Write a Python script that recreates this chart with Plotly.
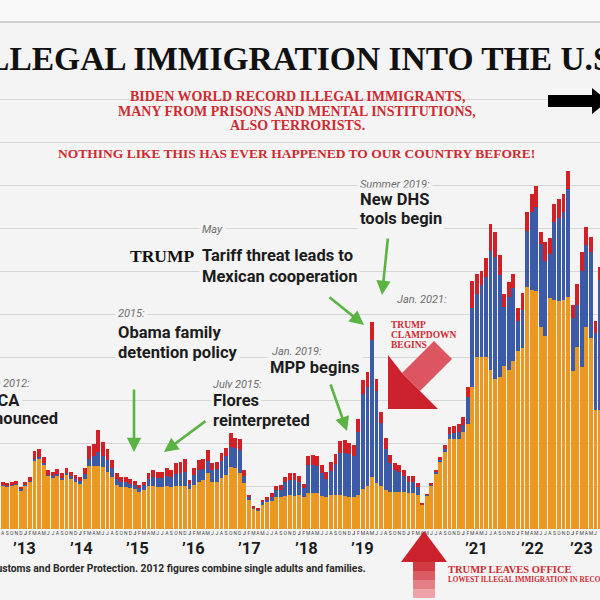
import plotly.graph_objects as go

# ---------------- data (thousands of encounters per month) ----------------
months = [f"{2012 + (7 + i) // 12}-{(7 + i) % 12 + 1:02d}" for i in range(132)]  # 2012-08 .. 2023-07

single_adults = [
    30.5, 29.8, 30.5, 31.0, 27.2,
    30.3, 33.0, 48.0, 49.0, 45.0, 37.0, 36.0, 37.2, 34.5, 37.5, 35.0, 33.0,
    31.5, 35.0, 44.0, 44.0, 44.0, 43.0, 40.0, 36.5, 31.0, 29.0, 29.5, 28.5,
    28.0, 26.0, 27.5, 30.0, 30.0, 29.5, 29.5, 30.0, 29.5, 30.0, 30.0, 30.0,
    28.0, 31.0, 33.0, 34.0, 39.0, 33.0, 33.0, 35.5, 37.7, 43.5, 42.3, 38.8,
    31.9, 20.5, 14.0, 12.6, 17.0, 18.5, 19.5, 22.0, 22.0, 23.0, 23.5, 23.0,
    24.0, 22.0, 25.0, 25.0, 25.0, 23.0, 22.0, 24.0, 23.5, 24.0, 23.0, 22.0,
    22.0, 24.0, 28.0, 30.0, 36.0, 32.0, 30.0, 27.0, 26.0, 26.0, 26.0, 26.0,
    25.0, 25.0, 24.0, 17.0, 23.5, 30.5, 39.0, 47.0, 54.0, 63.0, 63.0, 63.0,
    68.0, 73.5, 99, 120, 120, 120, 111, 105, 106, 114, 111, 117,
    124, 126, 169, 167, 166, 141, 135, 161, 160, 159, 160, 162,
    110, 127, 113, 141, 133, 83, 83,
]
family_units = [
    0.5, 0.5, 0.5, 0.6, 0.5,
    0.6, 0.7, 1.0, 1.0, 0.8, 1.0, 1.0, 1.2, 1.3, 1.5, 1.8, 1.7,
    2.0, 3.5, 5.0, 7.0, 10.0, 8.0, 8.0, 6.0, 4.0, 3.5, 3.5, 3.0,
    3.0, 2.5, 3.0, 5.0, 6.0, 6.0, 6.0, 7.0, 7.0, 8.5, 9.0, 10.0,
    3.5, 6.5, 8.0, 8.0, 8.5, 8.0, 9.0, 12.0, 13.0, 14.0, 14.0, 16.0,
    5.0, 1.7, 1.0, 0.8, 1.5, 2.0, 3.0, 5.5, 5.5, 9.5, 11.0, 11.0,
    9.0, 6.5, 20.0, 20.0, 19.0, 16.0, 13.0, 16.5, 22.0, 29.0, 30.0, 30.0,
    29.0, 44.0, 66.0, 69.0, 96.0, 64.0, 44.0, 29.0, 20.0, 15.0, 14.0, 11.0,
    8.0, 8.0, 5.0, 0.3, 0.3, 0.5, 0.8, 1.2, 1.6, 3.5, 4.0, 5.0,
    4.5, 18.5, 55, 44, 50, 56, 83, 85, 71, 41, 51, 51,
    21, 27, 39, 54, 59, 58, 52, 31, 54, 58, 61, 75,
    37, 29, 67, 57, 60, 54, 91,
]
unaccompanied = [
    2.0, 2.0, 2.0, 2.1, 1.8,
    2.1, 2.3, 5.6, 5.6, 4.7, 3.2, 3.0, 3.2, 3.0, 3.3, 3.2, 3.0,
    3.0, 3.8, 8.9, 8.3, 15.1, 9.9, 7.6, 5.6, 4.3, 3.5, 3.5, 3.2,
    2.7, 2.2, 2.5, 3.8, 5.0, 4.5, 4.5, 5.3, 4.7, 7.8, 8.0, 8.6,
    2.7, 4.8, 7.1, 6.6, 7.6, 4.8, 5.0, 5.3, 5.6, 9.2, 7.0, 7.8,
    4.3, 1.5, 1.0, 1.0, 1.7, 2.0, 2.4, 2.5, 3.2, 4.0, 4.8, 4.8,
    4.0, 2.9, 5.9, 6.6, 7.0, 5.7, 5.0, 6.5, 6.8, 8.6, 9.1, 8.2,
    7.6, 8.5, 10.0, 10.8, 12.4, 8.4, 7.9, 7.3, 5.6, 4.8, 4.7, 4.2,
    4.0, 4.0, 3.3, 0.6, 0.6, 0.9, 1.4, 2.3, 3.0, 4.9, 5.0, 5.5,
    5.5, 7.0, 19, 14, 10, 13, 19, 17, 14, 9, 10, 10,
    9, 12, 13, 13, 14, 8, 13, 11, 13, 13, 13, 13,
    9, 15, 13, 13, 11, 8, 9,
]
month_letters = ["J", "F", "M", "A", "M", "J", "J", "A", "S", "O", "N", "D"]
year_labels = ["\u201913", "\u201914", "\u201915", "\u201916", "\u201917", "\u201918",
               "\u201919", "\u201921", "\u201922", "\u201923"]

# ---------------- styling ----------------
BG = "#f4f4f4"
ORANGE = "#EB9820"
BLUE = "#3B5BA9"
RED = "#D32027"
GREEN = "#5BB344"
RED_TXT = "#CF2A30"
GREY_TXT = "#6e6e6e"
DARK = "#1c1c1c"
BASE_PX = 529          # pixel row of the zero line
UNIT_PX = 43 / 30      # pixels per thousand
SANS = "Roboto"
SERIF = "Liberation Serif"

xs = [(int(m[:4]) - 2013) * 12 + int(m[5:]) - 1 for m in months]
ticktext = []
for m in months:
    letter = month_letters[int(m[5:]) - 1]
    ticktext.append("<b>J</b>" if m.endswith("-01") else letter)

def PX(x):
    return x / 600.0

def PY(y):
    return (BASE_PX - y) / BASE_PX

fig = go.Figure()
for vals, col, name in [(single_adults, ORANGE, "Single adults"),
                        (family_units, BLUE, "Family units"),
                        (unaccompanied, RED, "Unaccompanied children")]:
    fig.add_bar(x=xs, y=vals, name=name, marker=dict(color=col, line=dict(width=0)))

ann = []

def txt(s, x, y, size, color, family=SANS, xanchor="left", bold=False, italic=False, bg=True):
    if bold:
        s = f"<b>{s}</b>"
    if italic:
        s = f"<i>{s}</i>"
    d = dict(text=s, x=PX(x), y=PY(y), xref="paper", yref="paper", xanchor=xanchor,
             yanchor="middle", showarrow=False, font=dict(size=size, color=color, family=family),
             borderpad=2)
    if bg:
        d["bgcolor"] = BG
    ann.append(d)

# title & red header text
txt("ILLEGAL IMMIGRATION INTO THE U.S.", 297, 58, 33.5, "#111111", SERIF, "center", bold=True, bg=False)
txt("BIDEN WORLD RECORD ILLEGAL IMMIGRANTS,", 297, 97, 14, RED_TXT, SERIF, "center", bold=True, bg=False)
txt("MANY FROM PRISONS AND MENTAL INSTITUTIONS,", 297, 111, 14, RED_TXT, SERIF, "center", bold=True, bg=False)
txt("ALSO TERRORISTS.", 297, 125, 14, RED_TXT, SERIF, "center", bold=True, bg=False)
txt("NOTHING LIKE THIS HAS EVER HAPPENED TO OUR COUNTRY BEFORE!", 296, 153, 13.5, RED_TXT, SERIF,
    "center", bold=True, bg=False)

# event annotations
txt("Summer 2019:", 357, 184, 11, GREY_TXT, italic=True)
txt("New DHS", 357, 200, 16.5, DARK, bold=True)
txt("tools begin", 357, 219, 16.5, DARK, bold=True)

txt("May", 199, 229, 11, GREY_TXT, italic=True)
txt("TRUMP", 197, 256, 17.5, "#111111", SERIF, "right", bold=True, bg=False)
txt("Tariff threat leads to", 199, 256, 16.5, DARK, bold=True)
txt("Mexican cooperation", 199, 276, 16.5, DARK, bold=True)

txt("Jan. 2021:", 394, 299, 11, GREY_TXT, italic=True)
txt("TRUMP", 388, 325, 9.5, RED_TXT, SERIF, bold=True, bg=False)
txt("CLAMPDOWN", 388, 335, 9.5, RED_TXT, SERIF, bold=True, bg=False)
txt("BEGINS", 388, 345, 9.5, RED_TXT, SERIF, bold=True, bg=False)

txt("2015:", 115, 313, 11, GREY_TXT, italic=True)
txt("Obama family", 115, 332, 16.5, DARK, bold=True)
txt("detention policy", 115, 352, 16.5, DARK, bold=True)

txt("Jan. 2019:", 269, 351, 11, GREY_TXT, italic=True)
txt("MPP begins", 267, 367, 16.5, DARK, bold=True)

txt("June 2012:", -26, 383, 11, GREY_TXT, italic=True)
txt("DACA", -27, 400, 16.5, DARK, bold=True)
txt("announced", -27, 418, 16.5, DARK, bold=True)

txt("July 2015:", 210, 384, 11, GREY_TXT, italic=True)
txt("Flores", 210, 400, 16.5, DARK, bold=True)
txt("reinterpreted", 210, 420, 16.5, DARK, bold=True)

# source & bottom red text
txt("Source: U.S. Customs and Border Protection. 2012 figures combine single adults and families.",
    369, 568, 10.3, "#2a2a2a", xanchor="right", bold=True, bg=False)
txt("TRUMP LEAVES OFFICE", 445, 569, 10.5, RED_TXT, SERIF, bold=True, bg=False)
txt("LOWEST ILLEGAL IMMIGRATION IN RECORDED HISTORY", 445, 580, 7.2, RED_TXT, SERIF, bold=True, bg=False)

# year labels under the month letters
year_pos = [-0.1, 12.3, 24.6, 36.8, 49.2, 61.6, 74.0, 98.9, 111.3, 122.0]
for lab, xp in zip(year_labels, year_pos):
    ann.append(dict(text=f"<b>{lab}</b>", x=xp, xref="x", y=PY(548), yref="paper",
                    showarrow=False, xanchor="center", yanchor="middle",
                    font=dict(size=16.5, color=DARK, family=SANS)))

# green arrows (tail -> head, pixels)
for (x0, y0, x1, y1) in [(388, 237, 382, 295), (328, 296, 364, 325), (134, 388, 134, 452),
                         (330, 383, 347, 431), (207, 420, 164, 452)]:
    ann.append(dict(text="", x=PX(x1), y=PY(y1), xref="paper", yref="paper",
                    ax=x0 - x1, ay=y0 - y1, showarrow=True, arrowhead=2, arrowsize=1.1,
                    arrowwidth=2.6, arrowcolor=GREEN))

def poly(points):
    return "M " + " L ".join(f"{PX(x):.5f},{PY(y):.5f}" for x, y in points) + " Z"

shapes = []
# header strip
shapes.append(dict(type="rect", xref="paper", yref="paper", x0=0, x1=1, y0=PY(21), y1=PY(-5),
                   fillcolor="#f9f9f9", line=dict(width=0), layer="above"))
shapes.append(dict(type="line", xref="paper", yref="paper", x0=0, x1=1, y0=PY(22), y1=PY(22),
                   line=dict(color="#d2d2d2", width=2), layer="above"))
# box behind red header text (hides gridlines)
shapes.append(dict(type="rect", xref="paper", yref="paper", x0=PX(48), x1=PX(548), y0=PY(165), y1=PY(82),
                   fillcolor=BG, line=dict(width=0), layer="between"))
# black arrow at top right
shapes.append(dict(type="path", xref="paper", yref="paper",
                   path=poly([(548, 95), (592, 95), (592, 88), (608, 101), (592, 114), (592, 107), (548, 107)]),
                   fillcolor="#000000", line=dict(width=0), layer="above"))
# red down-left arrow (clampdown)
tipx, tipy = 388, 409
shapes.append(dict(type="path", xref="paper", yref="paper",
                   path=poly([(tipx + 14, tipy - 36), (tipx + 46, tipy - 68), (tipx + 64, tipy - 50),
                              (tipx + 32, tipy - 18)]),
                   fillcolor="#dd5560", line=dict(width=0), layer="above"))
shapes.append(dict(type="path", xref="paper", yref="paper",
                   path=poly([(tipx, tipy), (tipx, tipy - 54), (tipx + 14, tipy - 36), (tipx + 32, tipy - 18),
                              (tipx + 50, tipy)]),
                   fillcolor="#cc222d", line=dict(width=0), layer="above"))
# red up arrow (Trump leaves office)
shapes.append(dict(type="path", xref="paper", yref="paper",
                   path=poly([(424, 531), (447, 562), (401, 562)]),
                   fillcolor="#cc222d", line=dict(width=0), layer="above"))
for i, col in enumerate(["#d23a44", "#dc5c64", "#e57f86", "#eea3a8"]):
    shapes.append(dict(type="rect", xref="paper", yref="paper", x0=PX(413), x1=PX(435),
                       y0=PY(562 + 9 * (i + 1)), y1=PY(562 + 9 * i),
                       fillcolor=col, line=dict(width=0), layer="above"))

fig.update_layout(
    width=600, height=600,
    margin=dict(l=0, r=0, t=0, b=600 - BASE_PX, pad=0),
    paper_bgcolor=BG, plot_bgcolor=BG,
    barmode="stack", bargap=0.16, showlegend=False,
    annotations=ann, shapes=shapes,
    xaxis=dict(range=[-5.57, 126.0], tickvals=xs, ticktext=ticktext, tickangle=0,
               tickfont=dict(size=5, color="#444444", family=SANS), ticks="",
               showgrid=False, zeroline=False, showline=False, fixedrange=True),
    yaxis=dict(range=[0, BASE_PX / UNIT_PX], tickvals=[30 * k for k in range(1, 11)],
               showticklabels=False, gridcolor="#d6d6d6", gridwidth=1.4,
               zeroline=False, showline=False, fixedrange=True),
)

fig.write_html("out.html")
